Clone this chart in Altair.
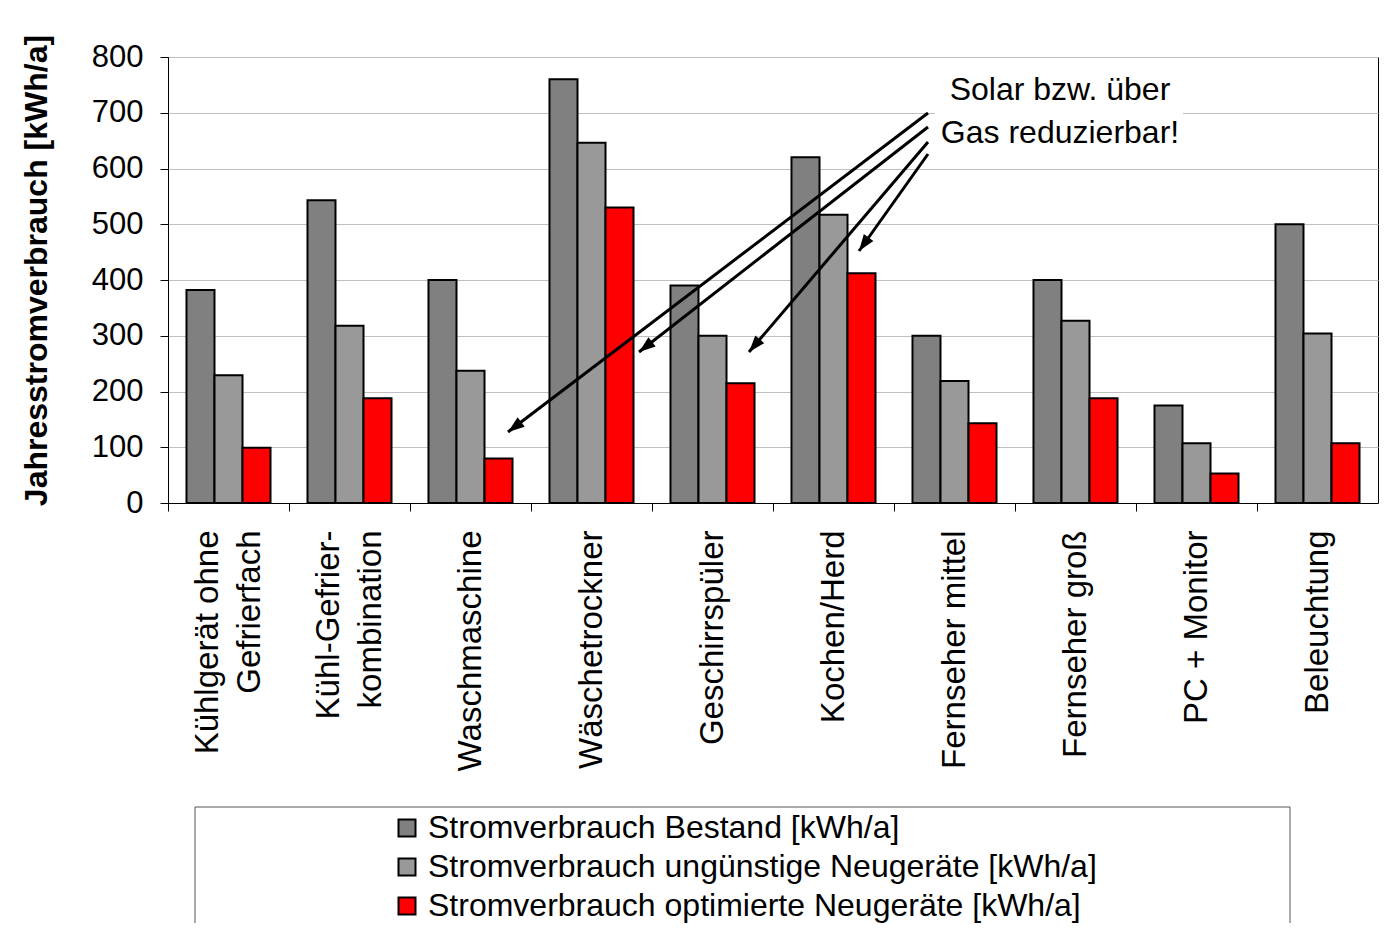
import math
import altair as alt
import pandas as pd

# ---------------- data ----------------
categories = [
    "Kühlgerät ohne\nGefrierfach",
    "Kühl-Gefrier-\nkombination",
    "Waschmaschine",
    "Wäschetrockner",
    "Geschirrspüler",
    "Kochen/Herd",
    "Fernseher mittel",
    "Fernseher groß",
    "PC + Monitor",
    "Beleuchtung",
]
series_names = [
    "Stromverbrauch Bestand [kWh/a]",
    "Stromverbrauch ungünstige Neugeräte [kWh/a]",
    "Stromverbrauch optimierte Neugeräte [kWh/a]",
]
bestand = [382, 543, 400, 760, 390, 620, 300, 400, 175, 500]
unguenstig = [229, 318, 237, 646, 300, 517, 219, 327, 107, 304]
optimiert = [99, 188, 80, 530, 215, 412, 143, 188, 53, 107]
y_ticks = [0, 100, 200, 300, 400, 500, 600, 700, 800]

annotation_lines = ["Solar bzw. über", "Gas reduzierbar!"]

colors = ["#808080", "#999999", "#ff0000"]
FONT = "Liberation Sans"

rows = []
for s, vals in zip(series_names, [bestand, unguenstig, optimiert]):
    for c, v in zip(categories, vals):
        rows.append({"cat": c, "series": s, "value": v})
df = pd.DataFrame(rows)

# ---------------- layout (pixels, relative to plot area) ----------------
W, H = 1210, 446

arrow_starts = [(760, 56), (760, 70), (760, 85), (760, 97)]
arrow_ends = [(340, 375), (471, 295), (581, 295), (691, 194)]
arrows = []
for (x0, y0), (x1, y1) in zip(arrow_starts, arrow_ends):
    ang = math.degrees(math.atan2(x1 - x0, -(y1 - y0))) % 360
    arrows.append({"x": x0, "y": y0, "x2": x1, "y2": y1, "a": ang})
arrows_df = pd.DataFrame(arrows)

text_y = [43, 86]
text_df = pd.DataFrame({"t": annotation_lines, "y": text_y})

one = pd.DataFrame({"k": [0]})

# ---------------- chart ----------------
bars = alt.Chart(df).mark_bar(stroke="black", strokeWidth=2).encode(
    x=alt.X(
        "cat:N",
        sort=categories,
        scale=alt.Scale(paddingInner=0, paddingOuter=0),
        axis=alt.Axis(
            title=None,
            bandPosition=0,
            labelAngle=270,
            labelAlign="right",
            labelBaseline="middle",
            labelFontSize=33,
            labelPadding=19,
            labelLineHeight=42,
            labelLimit=500,
            labelColor="black",
            labelExpr="split(datum.label, '\\n')",
            labelOffset={
                "condition": {"test": "indexof(datum.value, '\\n') >= 0", "value": -21},
                "value": 0,
            },
            tickSize=8,
            tickColor="black",
            domainColor="black",
            grid=False,
        ),
    ),
    xOffset=alt.XOffset(
        "series:N",
        sort=series_names,
        scale=alt.Scale(paddingOuter=0.66, paddingInner=0),
    ),
    y=alt.Y(
        "value:Q",
        scale=alt.Scale(domain=[0, 800], nice=False),
        axis=alt.Axis(
            values=y_ticks,
            title="Jahresstromverbrauch [kWh/a]",
            titleFontSize=32,
            titleFontWeight="bold",
            titleColor="black",
            titleAngle=270,
            titleX=-132,
            titleY=213,
            titleAlign="center",
            titleBaseline="middle",
            labelFontSize=31,
            labelColor="black",
            labelPadding=17,
            tickSize=8,
            tickColor="black",
            domainColor="black",
            gridColor="#c0c0c0",
            gridWidth=1,
        ),
    ),
    color=alt.Color(
        "series:N",
        sort=series_names,
        scale=alt.Scale(domain=series_names, range=colors),
        legend=alt.Legend(
            title=None,
            orient="none",
            legendX=223,
            legendY=755,
            labelFontSize=32,
            labelFont=FONT,
            labelColor="black",
            symbolType="square",
            symbolSize=289,
            symbolStrokeColor="black",
            symbolStrokeWidth=2,
            symbolOpacity=1,
            rowPadding=7,
            labelOffset=5,
            padding=0,
            labelLimit=900,
        ),
    ),
)

white_box = alt.Chart(one).mark_rect(fill="white", stroke=None).encode(
    x=alt.value(767), x2=alt.value(1015), y=alt.value(13), y2=alt.value(99)
)

ann_text = alt.Chart(text_df).mark_text(
    font=FONT, fontSize=32, color="black", align="center", baseline="alphabetic"
).encode(
    x=alt.value(892),
    y=alt.Y("y:Q", scale=None),
    text="t:N",
)

arrow_lines = alt.Chart(arrows_df).mark_rule(color="black", strokeWidth=3).encode(
    x=alt.X("x:Q", scale=None),
    y=alt.Y("y:Q", scale=None),
    x2="x2:Q",
    y2="y2:Q",
)

arrow_heads = alt.Chart(arrows_df).mark_point(
    shape="M0,0L-0.6,1.7L0.6,1.7Z", filled=True, color="black", opacity=1, size=380
).encode(
    x=alt.X("x2:Q", scale=None),
    y=alt.Y("y2:Q", scale=None),
    angle=alt.Angle("a:Q", scale=None),
)

legend_box = alt.Chart(one).mark_rect(
    fill="white", fillOpacity=0, stroke="#555555", strokeWidth=1
).encode(
    x=alt.value(27), x2=alt.value(1122), y=alt.value(750), y2=alt.value(890)
)

chart = (
    alt.layer(legend_box, bars, white_box, ann_text, arrow_lines, arrow_heads)
    .properties(
        width=W,
        height=H,
        autosize=alt.AutoSizeParams(type="none"),
        padding={"left": 160, "top": 49, "right": 2, "bottom": 420},
        background="white",
    )
    .configure_view(stroke="black", strokeWidth=1)
    .configure_axis(labelFont=FONT, titleFont=FONT)
    .configure_text(font=FONT)
)

chart.save("out.html", embed_options={"renderer": "svg", "actions": False})
